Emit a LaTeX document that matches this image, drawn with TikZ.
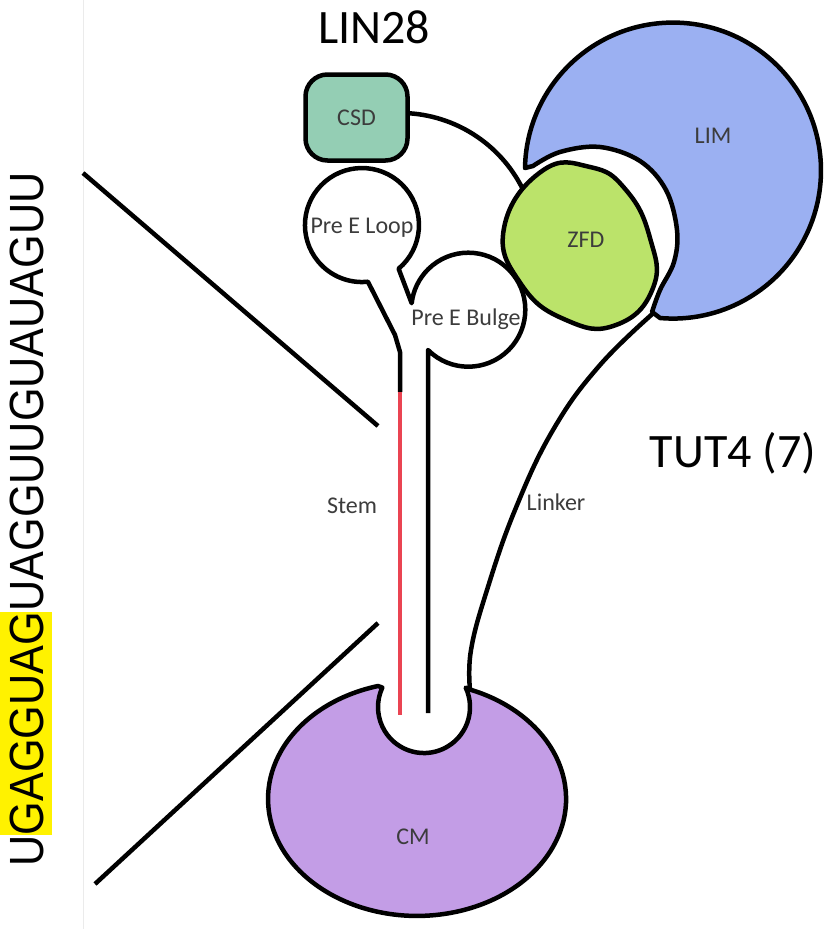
\documentclass[tikz,border=0pt]{standalone}
\usepackage{fontspec}
\setmainfont{Carlito}
\newfontfamily\seqfont[FakeStretch=0.9]{Liberation Sans}
\usepackage{tikz}
\definecolor{csdgreen}{RGB}{148,206,180}
\definecolor{limblue}{RGB}{155,176,242}
\definecolor{zfdgreen}{RGB}{187,227,106}
\definecolor{cmpurple}{RGB}{195,157,230}
\definecolor{stemred}{RGB}{234,68,82}
\definecolor{labelgray}{RGB}{60,60,60}

\begin{document}
\begin{tikzpicture}[x=1pt, y=-1pt,
		outline/.style={draw=black, line width=4.5pt, line join=round},
		blob/.style={outline},
		lbl/.style={text=labelgray, font=\fontsize{24}{26}\selectfont},
		title/.style={font=\fontsize{48}{52}\selectfont},
		seq/.style={rotate=90, inner sep=0pt, text height=35pt, text depth=0pt, font=\seqfont\fontsize{48}{50}\selectfont}
	]
		\useasboundingbox (0,0) rectangle (827,929);
		\fill[white] (0,0) rectangle (827,929);
		\draw[black!8, line width=1pt] (83,0) -- (83,929);
		
		% sequence, seed highlighted
		\node (seqU) [seq, anchor=base west] at (43,867) {U};
		\node (seqseed) [seq, fill=yellow, inner ysep=8.5pt, anchor=base west] at (seqU.base east) {GAGGUAG};
		\node (seqrest) [seq, anchor=base west] at (seqseed.base east) {UAGGUUGUAUAGUU};
		
		\draw[outline] (83,173) -- (378,426);
		\draw[outline] (378,623) -- (95,884);
		
		% hairpin: stem, bulge, loop
		\draw[outline] (428,713) -- (428,350)
			arc[start angle=135, end angle=-173.5, radius=57]
			-- (398.6,268.7)
			arc[start angle=50, end angle=-276, radius=57]
			-- (395,335) -- (400,352) -- (400,392);
		\draw[stemred, line width=4pt] (400,392) -- (400,715);
		
		\draw[outline] plot[smooth, tension=0.7] coordinates {(658,309) (600,365) (553,430) (515,510) (487,590) (471,650) (470,690)};
		\draw[outline] (409.6,113.3) arc[start angle=-86, end angle=-25, radius=137];
		
		% TUT4 domains
		\draw[blob, fill=limblue] (525,168) arc[start angle=181, end angle=455, radius=148]
			-- plot[smooth, tension=0.6] coordinates {(652,312) (660,290) (674,262) (677,230) (666,190) (640,161) (600,147) (560,152) (533,166)} -- cycle;
		\draw[blob, fill=zfdgreen] plot[smooth cycle, tension=0.8] coordinates {(542,171) (590,167) (626,190) (650,238) (653,288) (616,325) (566,320) (521,284) (504,228)};
		\draw[blob, fill=cmpurple] (378,686) arc[start angle=-105.2, end angle=-430, x radius=149, y radius=117]
			-- (465.7,687.6) arc[start angle=-25, end angle=205, radius=46] -- cycle;
		
		\node (csd) [blob, fill=csdgreen, rounded corners=22pt, minimum width=102pt, minimum height=86pt, lbl] at (356.5,117.5) {CSD};
		
		\node (lin) [title] at (374,27) {LIN28};
		\node (tut) [title] at (733,453) {TUT4 (7)};
		\node (loop) [lbl] at (362,228) {Pre E Loop};
		\node (bulge) [lbl] at (466,319) {Pre E Bulge};
		\node (stem) [lbl] at (352,506) {Stem};
		\node (linker) [lbl] at (556,502) {Linker};
		\node (zfd) [lbl] at (586,240) {ZFD};
		\node (lim) [lbl] at (713,136) {LIM};
		\node (cm) [lbl] at (413,837) {CM};
	\end{tikzpicture}
\end{document}
